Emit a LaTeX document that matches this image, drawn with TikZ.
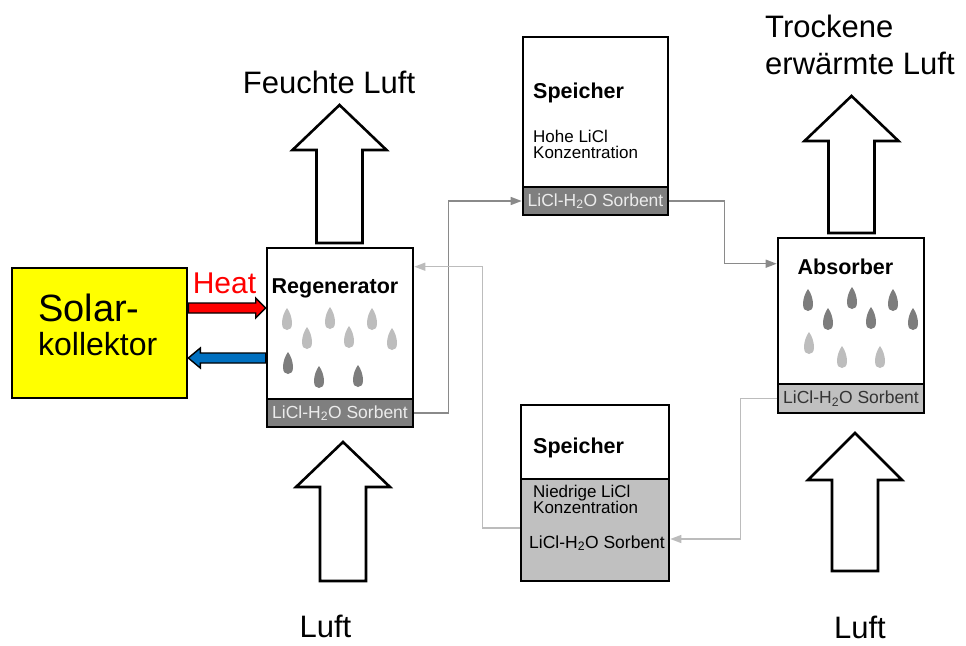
\documentclass[tikz,border=0pt]{standalone}
\usepackage{fontspec}
\setmainfont{Liberation Sans}
\usepackage{xcolor}
\usetikzlibrary{arrows.meta,calc}
\definecolor{solYellow}{HTML}{FFFF00}
\definecolor{heatRed}{HTML}{FF0000}
\definecolor{coolBlue}{HTML}{0070C0}
\definecolor{sorbDark}{HTML}{7F7F7F}
\definecolor{sorbLight}{HTML}{C0C0C0}
\definecolor{dropLight}{HTML}{BDBDBD}
\definecolor{dropDark}{HTML}{7D7D7D}
\definecolor{pipeDark}{HTML}{8A8A8A}
\definecolor{pipeLight}{HTML}{BCBCBC}
\newcommand{\fs}[2][]{\fontsize{#2}{#2}\selectfont}
\newcommand{\sorbtext}{LiCl-H\textsubscript{2}O Sorbent}

\begin{document}
\begin{tikzpicture}[x=1pt,y=-1pt,>=Stealth,
  box/.style={draw,line width=2.6pt,inner sep=0pt,minimum width=146pt},
  airArrow/.style={draw,fill=white,line width=2.6pt,line join=miter},
  pipeD/.style={pipeDark,line width=1.4pt,-{Triangle[length=11pt,width=8pt]}},
  pipeL/.style={pipeLight,line width=1.4pt,-{Triangle[length=11pt,width=8pt]}},
  title/.style={font=\bfseries\fs{21.5},inner sep=0pt},
  small/.style={font=\fs{17},inner sep=0pt,align=left}]
\useasboundingbox (0,0) rectangle (966,645);

% boxes
\node[box,fill=solYellow,minimum width=175pt,minimum height=130pt] (solar) at (99.5,333) {};
\node[box,minimum height=151pt] (regen) at (340,323.5) {};
\node[box,fill=sorbDark,minimum height=28pt,text=white!85!gray,font=\fs{17.5}] (regenSorb) at (340,413) {\sorbtext};
\node[box,minimum width=145pt,minimum height=150pt] (speicherA) at (595.5,112) {};
\node[box,minimum width=145pt,fill=sorbDark,minimum height=28pt,text=white!85!gray,font=\fs{17.5}] (speicherASorb) at (595.5,201) {\sorbtext};
\node[box,minimum width=148pt,minimum height=74pt] (speicherB) at (595,442) {};
\node[box,minimum width=148pt,fill=sorbLight,minimum height=102pt] (speicherBSorb) at (595,530) {};
\node[box,minimum height=146pt] (absorber) at (851,311) {};
\node[box,fill=sorbLight,minimum height=29pt,text=black!80,font=\fs{17.5}] (absorberSorb) at (851,398.5) {\sorbtext};

% texts
\node[font=\fs{32},inner sep=0pt,align=left,anchor=north west] (solarText) at (38,294)
  {{\fs{38}Solar-}\\[2pt]kollektor};
\node[font=\fs{30},text=heatRed,inner sep=0pt,anchor=base] (heat) at (224.5,293) {Heat};
\node[title,anchor=base] (regenTitle) at (335,293) {Regenerator};
\node[title,anchor=base west] (speicherATitle) at (533,98) {Speicher};
\node[small,anchor=north west] (hohe) at (533,130) {Hohe LiCl\\[-1pt]Konzentration};
\node[title,anchor=base west] (speicherBTitle) at (533,453) {Speicher};
\node[small,anchor=north west] (niedrig) at (533,485) {Niedrige LiCl\\[-1pt]Konzentration};
\node[font=\fs{17.5},inner sep=0pt] (speicherBText) at (597,543) {\sorbtext};
\node[title,anchor=base] (absorberTitle) at (845.5,274) {Absorber};
\node[font=\fs{31},inner sep=0pt,anchor=base] (feuchte) at (329,93) {Feuchte Luft};
\node[font=\fs{31},inner sep=0pt,align=left,anchor=north west] (trocken) at (765,15)
  {Trockene\\[6pt]erwärmte Luft};
\node[font=\fs{31},inner sep=0pt,anchor=base] (luftRegen) at (325.5,637) {Luft};
\node[font=\fs{31},inner sep=0pt,anchor=base] (luftAbs) at (860,638) {Luft};

% air arrows
\foreach \cx/\yb/\yh/\yt in {339.5/243/150/105, 343/581/487/442, 851.5/233/141/96, 855/571/480/433}
  \draw[airArrow] (\cx-23,\yb) -- (\cx-23,\yh) -- (\cx-47,\yh) -- (\cx,\yt)
    -- (\cx+47,\yh) -- (\cx+23,\yh) -- (\cx+23,\yb) -- cycle;

% heat and return arrows
\coordinate (hs) at (solar.east |- 0,308);
\coordinate (he) at (regen.west |- 0,308);
\filldraw[fill=heatRed,line width=1.4pt,line join=miter] ($(hs)+(0,-5)$) -- ($(he)+(-10,-5)$)
  -- ($(he)+(-10,-10)$) -- (he) -- ($(he)+(-10,10)$) -- ($(he)+(-10,5)$) -- ($(hs)+(0,5)$) -- cycle;
\coordinate (bs) at (regen.west |- 0,358);
\coordinate (be) at (solar.east |- 0,358);
\filldraw[fill=coolBlue,line width=1.4pt,line join=miter] ($(bs)+(0,-5)$) -- ($(be)+(12,-5)$)
  -- ($(be)+(12,-10)$) -- (be) -- ($(be)+(12,10)$) -- ($(be)+(12,5)$) -- ($(bs)+(0,5)$) -- cycle;

% drops
\foreach \x/\y in {287/319, 330/318, 372/319, 307/338, 349/337, 392/339,
                   809/343, 842/357, 880/357}
  \fill[dropLight,shift={(\x,\y)}] (0,-11) .. controls (3,-7) and (5,-1) .. (5,4)
    .. controls (5,9) and (3,11) .. (0,11) .. controls (-3,11) and (-5,9) .. (-5,4)
    .. controls (-5,-1) and (-3,-7) .. cycle;
\foreach \x/\y in {288/363, 319/377, 358/376,
                   808/300, 852/298, 893/300, 828/319, 871/318, 913/319}
  \fill[dropDark,shift={(\x,\y)}] (0,-11) .. controls (3,-7) and (5,-1) .. (5,4)
    .. controls (5,9) and (3,11) .. (0,11) .. controls (-3,11) and (-5,9) .. (-5,4)
    .. controls (-5,-1) and (-3,-7) .. cycle;

% sorbent circuit
\coordinate (absIn) at ($(absorber.north west)+(0,27)$);
\coordinate (spBin) at ($(speicherBSorb.east)+(0,9)$);
\coordinate (spBout) at ($(speicherBSorb.west)+(0,-2)$);
\coordinate (regIn) at ($(regen.north east)+(0,20)$);
\draw[pipeD] (regenSorb.east) -- ++(34,0) |- (speicherASorb.west);
\draw[pipeD] (speicherASorb.east) -- ++(55,0) |- (absIn);
\draw[pipeL] (absorberSorb.west) -- ++(-36,0) |- (spBin);
\draw[pipeL] (spBout) -- ++(-37,0) |- (regIn);
\end{tikzpicture}
\end{document}
